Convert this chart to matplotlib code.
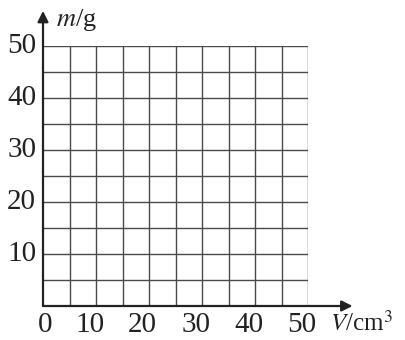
import matplotlib
matplotlib.use("Agg")
import matplotlib.pyplot as plt
import numpy as np

# grid / tick data
x_ticks = [0, 10, 20, 30, 40, 50]
y_ticks = [10, 20, 30, 40, 50]
grid_step = 5
x_max = 50
y_max = 50

plt.rcParams['font.family'] = ['Liberation Serif', 'DejaVu Serif']
plt.rcParams['mathtext.fontset'] = 'stix'

fig = plt.figure(figsize=(4.06, 3.4), dpi=100)
ax = fig.add_axes([43 / 406, 34 / 340, 265 / 406, 260 / 340])
ax.set_xlim(0, x_max)
ax.set_ylim(0, y_max)

# grid lines
for gx in np.arange(grid_step, x_max + 1, grid_step):
    ax.axvline(gx, color='#4a4a4a', lw=1.0)
for gy in np.arange(grid_step, y_max + 1, grid_step):
    ax.axhline(gy, color='#4a4a4a', lw=1.0)

for s in ax.spines.values():
    s.set_visible(False)
ax.set_xticks([])
ax.set_yticks([])

# axes with arrows
ax.annotate('', xy=(1.168, 0), xytext=(0, 0), xycoords='axes fraction',
            arrowprops=dict(arrowstyle='-|>', color='#222222', lw=1.6,
                            mutation_scale=16, shrinkA=0, shrinkB=0),
            annotation_clip=False)
ax.annotate('', xy=(0, 1.135), xytext=(0, 0), xycoords='axes fraction',
            arrowprops=dict(arrowstyle='-|>', color='#222222', lw=1.6,
                            mutation_scale=16, shrinkA=0, shrinkB=0),
            annotation_clip=False)

# tick labels
for t in x_ticks:
    ax.text(t - 1.2 if t else t + 0.4, -3.6, str(t), ha='center', va='center',
            fontsize=21, color='#222222', clip_on=False)
for t in y_ticks:
    ax.text(-1.3, t, str(t), ha='right', va='center',
            fontsize=21, color='#222222', clip_on=False)

ax.text(x_max + 4.2, -3.4, r'$V$/cm$^3$', ha='left', va='center', fontsize=18,
        color='#222222', clip_on=False)
ax.text(2.5, 55.0, r'$m$/g', ha='left', va='center', fontsize=19,
        color='#222222', clip_on=False)

fig.savefig('out.png', dpi=100, facecolor='white')
